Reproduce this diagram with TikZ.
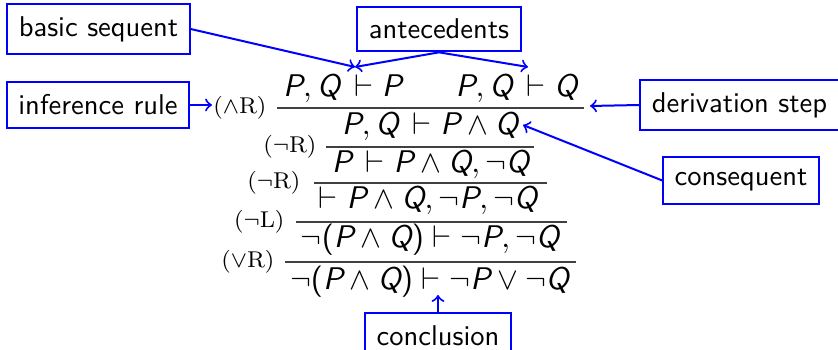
\documentclass[tikz,border=0pt]{standalone}
\usepackage{amsmath}
\newcommand{\vP}{\textsf{\slshape P}}
\newcommand{\vQ}{\textsf{\slshape Q}}
\newcommand{\lpar}{\textsf{(}}
\newcommand{\rpar}{\textsf{)}}
\newcommand{\seq}{\mathrel{\mkern3mu\vdash}}
\begin{document}
\begin{tikzpicture}[x=0.35pt,y=-0.35pt,
  lbl/.style={draw=blue,line width=0.7pt,font=\sffamily,inner xsep=4pt,inner ysep=4.3pt},
  conn/.style={blue,line width=0.7pt,->},
  frm/.style={anchor=base,inner sep=0pt,font=\fontsize{10.95}{13}\selectfont},
  rulename/.style={anchor=east,font=\fontsize{8}{9}\selectfont,inner sep=0pt},
  ruleline/.style={line width=0.45pt,black!75}]
\useasboundingbox (0,0) rectangle (838,350);

% sequents
\node[frm] (f1) at (342.5,97) {$\vP, \vQ \seq \vP$};
\node[frm] (f2) at (516.5,97) {$\vP, \vQ \seq \vQ$};
\node[frm] (f3) at (430,135) {$\vP, \vQ \seq \vP \wedge \vQ$};
\node[frm] (f4) at (430.5,173) {$\vP \seq \vP \wedge \vQ, \neg \vQ$};
\node[frm] (f5) at (428,209) {$\vdash \vP \wedge \vQ, \neg \vP, \neg \vQ$};
\node[frm] (f6) at (430,248) {$\neg\lpar\vP \wedge \vQ\rpar \vdash \neg \vP, \neg \vQ$};
\node[frm] (f7) at (429.5,290) {$\neg\lpar\vP \wedge \vQ\rpar \vdash \neg \vP \vee \neg \vQ$};

% rule lines
\coordinate (l1a) at (277,108); \coordinate (l1b) at (584,108);
\coordinate (l2a) at (326,147); \coordinate (l2b) at (534,147);
\coordinate (l3a) at (314,183); \coordinate (l3b) at (547,183);
\coordinate (l4a) at (296,222); \coordinate (l4b) at (567,222);
\coordinate (l5a) at (285,262); \coordinate (l5b) at (576,262);
\draw[ruleline] (l1a) -- (l1b);
\draw[ruleline] (l2a) -- (l2b);
\draw[ruleline] (l3a) -- (l3b);
\draw[ruleline] (l4a) -- (l4b);
\draw[ruleline] (l5a) -- (l5b);

% rule names
\node[rulename] (r1) at (267,108) {$(\wedge\mathrm{R})$};
\node[rulename] (r2) at (317,147) {$(\neg\mathrm{R})$};
\node[rulename] (r3) at (301,183) {$(\neg\mathrm{R})$};
\node[rulename] (r4) at (285,222) {$(\neg\mathrm{L})$};
\node[rulename] (r5) at (275,262) {$(\vee\mathrm{R})$};

% labels
\node[lbl] (bs) at (98.5,29) {basic sequent};
\node[lbl] (ant) at (439,29) {antecedents};
\node[lbl] (ir) at (98,105) {inference rule};
\node[lbl] (ds) at (739.5,105) {derivation step};
\node[lbl] (cons) at (741,180.5) {consequent};
\node[lbl,anchor=north] (concl) at (438,312) {conclusion};

% arrow targets
\coordinate (tbs) at (355,67);
\coordinate (tant) at (528,67);
\coordinate (tir) at (212,105);
\coordinate (tds) at (590,106);
\coordinate (tcons) at (523,125);
\coordinate (tconcl) at (438,295);

\draw[conn] (bs.east) -- (tbs);
\draw[conn] (ant.south) -- (tbs);
\draw[conn] (ant.south) -- (tant);
\draw[conn] (ir.east) -- (tir);
\draw[conn] (ds.west) -- (tds);
\draw[conn] (cons.west) -- (tcons);
\draw[conn] (concl.north) -- (tconcl);
\end{tikzpicture}
\end{document}
